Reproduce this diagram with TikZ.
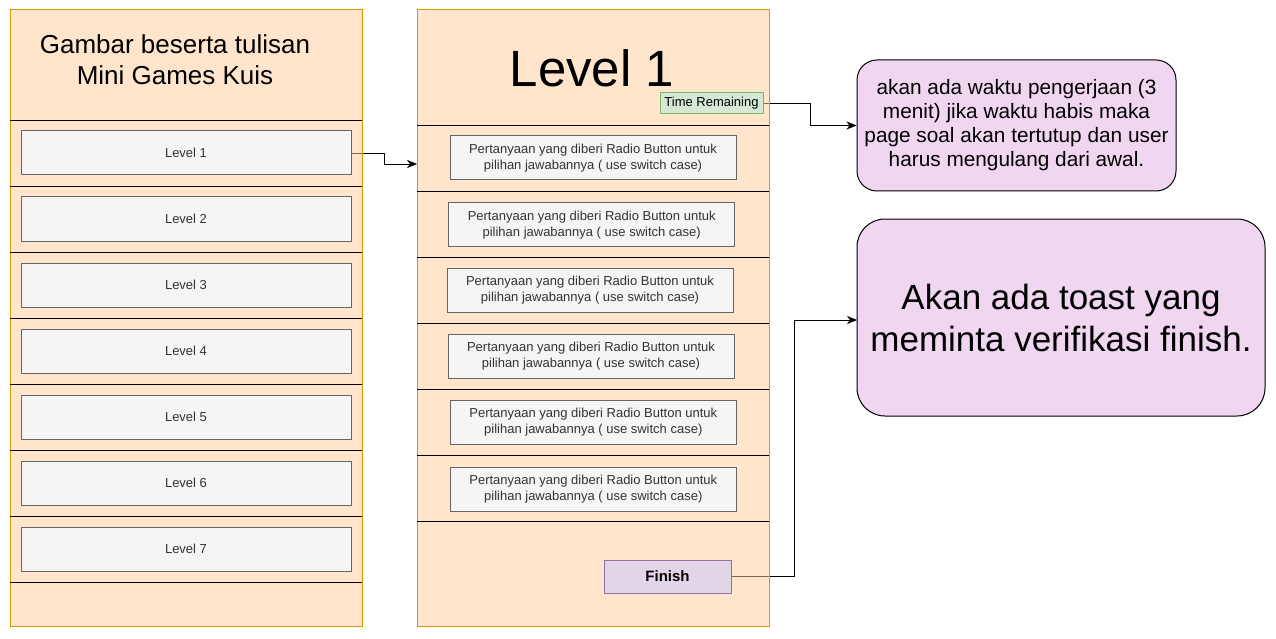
\documentclass[tikz,border=0pt]{standalone}
\usepackage{fontspec}
\setmainfont{Liberation Sans}
\usetikzlibrary{arrows.meta}
\pgfdeclarelayer{back}
\pgfsetlayers{back,main}
\definecolor{panelfill}{HTML}{FFCC99}
\definecolor{paneldraw}{HTML}{D79B00}
\definecolor{boxfill}{HTML}{F5F5F5}
\definecolor{boxdraw}{HTML}{666666}
\definecolor{boxtext}{HTML}{333333}
\definecolor{greenfill}{HTML}{D5E8D4}
\definecolor{greendraw}{HTML}{82B366}
\definecolor{lilacfill}{HTML}{E1D5E7}
\definecolor{lilacdraw}{HTML}{9673A6}
\definecolor{pinkfill}{HTML}{F1D6F2}
\begin{document}
\begin{tikzpicture}[x=1pt,y=-1pt,line width=1pt,
  panel/.style={draw=paneldraw,fill=panelfill,fill opacity=0.5,minimum width=352pt,minimum height=616pt,inner sep=0pt},
  levelbox/.style={draw=boxdraw,fill=boxfill,text=boxtext,minimum width=330pt,minimum height=44pt,inner sep=0pt,font=\fontsize{13}{16}\selectfont},
  soalbox/.style={levelbox,minimum width=286pt,align=center},
  note/.style={draw=black,fill=pinkfill,rounded corners=20pt,align=center},
  conn/.style={-{Stealth[length=10pt,width=8pt,inset=3pt]}}]
  \useasboundingbox (0,0) rectangle (1276,639);
  \node[panel] (menu) at (186,318) {};
  \node[panel] (soal) at (593,318) {};
  \foreach \y in {120.5,186.5,252.5,318.5,384.5,450.5,516.5,582.5}
    \draw (10,\y) -- (362,\y);
  \foreach \y in {125.5,191.5,257.5,323.5,389.5,455.5,521.5}
    \draw (417,\y) -- (769,\y);
  \node[font=\fontsize{26}{31}\selectfont,align=center,inner sep=0pt] (judul) at (175,60) {Gambar beserta tulisan\\Mini Games Kuis};
  \foreach \i in {1,...,7}
    \node[levelbox] (lv\i) at (186,87+66*\i) {Level \i};
  \node[font=\fontsize{51}{60}\selectfont,anchor=base,inner sep=0pt] (judulsoal) at (592,87) {Level 1};
  \node[draw=greendraw,fill=greenfill,minimum width=103pt,minimum height=21pt,inner sep=0pt,font=\fontsize{13}{15}\selectfont] (waktu) at (711.5,103.5) {Time Remaining};
  \foreach \x/\y [count=\i] in {593/158,591.7/224.7,590/290.5,591/356.5,593.3/422.5,593.3/489}
    \node[soalbox] (q\i) at (\x,\y) {Pertanyaan yang diberi Radio Button untuk\\pilihan jawabannya ( use switch case)};
  \node[draw=lilacdraw,fill=lilacfill,minimum width=127pt,minimum height=33pt,inner sep=0pt,font=\fontsize{15}{18}\selectfont\bfseries] (selesai) at (667.5,576.5) {Finish};
  \node[note,minimum width=319pt,minimum height=131pt,font=\fontsize{20.8}{24}\selectfont] (info) at (1016.5,125.5) {akan ada waktu pengerjaan (3\\menit) jika waktu habis maka\\page soal akan tertutup dan user\\harus mengulang dari awal.};
  \node[note,rounded corners=28pt,minimum width=408pt,minimum height=197pt,font=\fontsize{35}{42}\selectfont] (toast) at (1061,317.5) {Akan ada toast yang\\meminta verifikasi finish.};
  \coordinate (masuk) at (417,164);
  \coordinate (masuktoast) at (857,320);
  \begin{pgfonlayer}{back}
    \draw[conn] (lv1.east) -- ++(33,0) |- (masuk);
    \draw[conn] (waktu.east) -- ++(47,0) |- (info.west);
    \draw[conn] (selesai.east) -- ++(63,0) |- (masuktoast);
  \end{pgfonlayer}
\end{tikzpicture}
\end{document}
